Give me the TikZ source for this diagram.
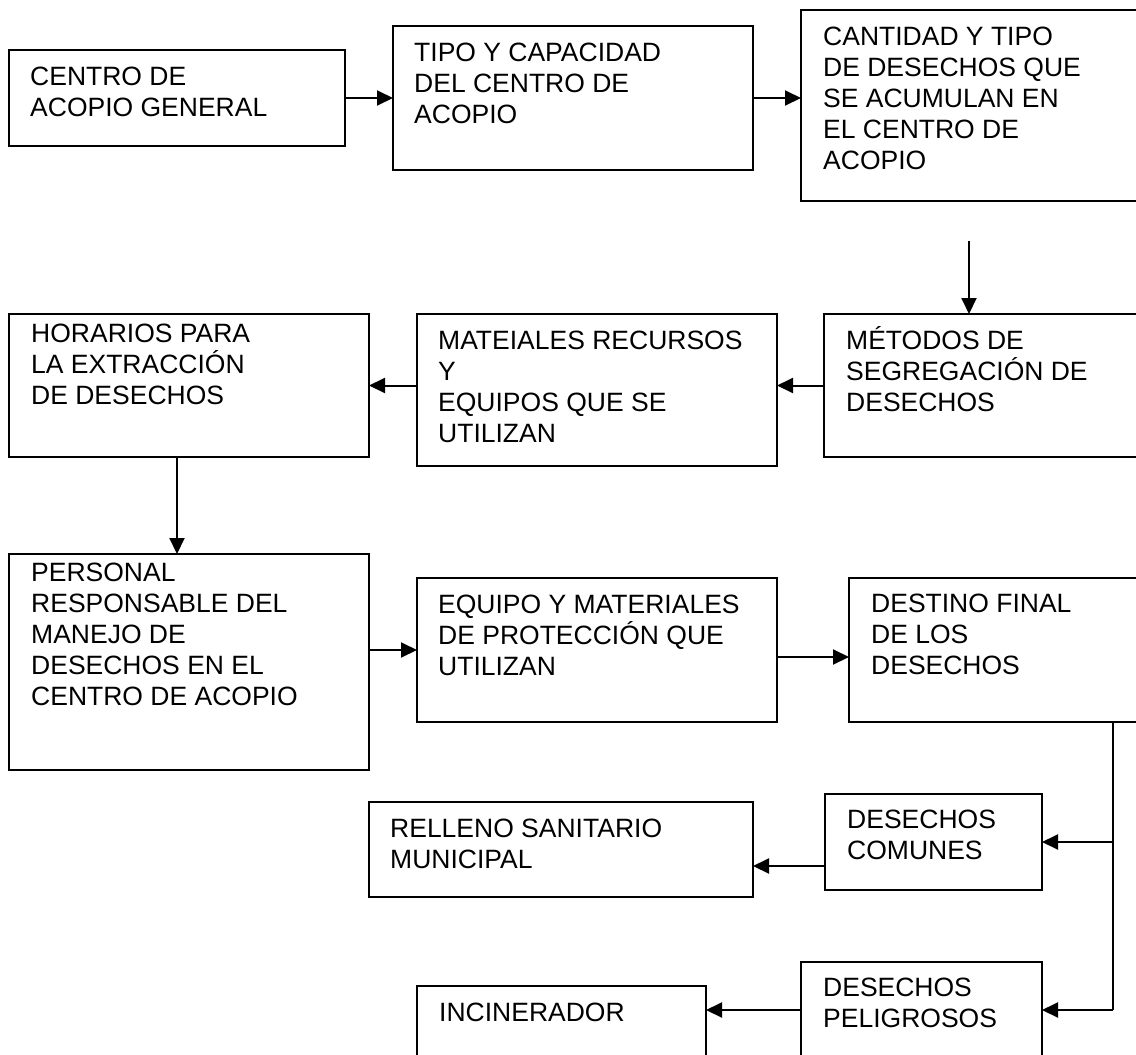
\documentclass[tikz,border=0pt]{standalone}
\usepackage{fontspec}
\setmainfont{Liberation Sans}
\usetikzlibrary{arrows.meta,calc}
\newcommand\flowbox[5]{%
  \node[box, minimum width={#4-#2}, minimum height={#5-#3}] (#1) at ({(#2+#4)/2},{(#3+#5)/2}) {};}
\begin{document}
\begin{tikzpicture}[x=1pt,y=-1pt,
  box/.style={draw, line width=2pt, rectangle, inner sep=0pt, outer sep=0pt},
  txt/.style={anchor=base west, align=left, inner sep=0pt, font=\fontsize{26.5}{31}\selectfont},
  arr/.style={line width=2pt, -{Triangle[length=16pt,width=15pt]}},
  ln/.style={line width=2pt}]
\clip (0,0) rectangle (1136,1055);
\fill[white] (0,0) rectangle (1136,1055);
% boxes
\flowbox{b1}{9}{50}{345}{146}
\flowbox{b2}{393}{26}{753}{170}
\flowbox{b3}{801}{10}{1137}{201}
\flowbox{b4}{824}{314}{1137}{457}
\flowbox{b5}{417}{314}{777}{466}
\flowbox{b6}{9}{314}{369}{457}
\flowbox{b7}{9}{554}{369}{770}
\flowbox{b8}{417}{578}{777}{722}
\flowbox{b9}{849}{578}{1137}{722}
\flowbox{b10}{825}{794}{1042}{890}
\flowbox{b11}{369}{802}{753}{897}
\flowbox{b12}{801}{962}{1042}{1080}
\flowbox{b13}{417}{986}{706}{1080}
% texts (anchored at the baseline of the last line)
\node[txt] (t1) at (30,116) {CENTRO DE\\ACOPIO GENERAL};
\node[txt] (t2) at (414,123) {TIPO Y CAPACIDAD\\DEL CENTRO DE\\ACOPIO};
\node[txt] (t3) at (823,169) {CANTIDAD Y TIPO\\DE DESECHOS QUE\\SE ACUMULAN EN\\EL CENTRO DE\\ACOPIO};
\node[txt] (t4) at (846,411) {MÉTODOS DE\\SEGREGACIÓN DE\\DESECHOS};
\node[txt] (t5) at (438,442) {MATEIALES RECURSOS\\Y\\EQUIPOS QUE SE\\UTILIZAN};
\node[txt] (t6) at (31,404) {HORARIOS PARA\\LA EXTRACCIÓN\\DE DESECHOS};
\node[txt] (t7) at (31,705) {PERSONAL\\RESPONSABLE DEL\\MANEJO DE\\DESECHOS EN EL\\CENTRO DE ACOPIO};
\node[txt] (t8) at (438,675) {EQUIPO Y MATERIALES\\DE PROTECCIÓN QUE\\UTILIZAN};
\node[txt] (t9) at (871,674) {DESTINO FINAL\\DE LOS\\DESECHOS};
\node[txt] (t10) at (847,859) {DESECHOS\\COMUNES};
\node[txt] (t11) at (390,868) {RELLENO SANITARIO\\MUNICIPAL};
\node[txt] (t12) at (823,1027) {DESECHOS\\PELIGROSOS};
\node[txt] (t13) at (439,1021) {INCINERADOR};
% connectors
\coordinate (c34) at (969,241);
\coordinate (v0) at (1113,722);
\coordinate (v1) at (1113,842);
\coordinate (v2) at (1113,1010);
\coordinate (c1011) at (825,866);
\draw[arr] (b1.east) -- (b1.east -| b2.west);
\draw[arr] (b2.east) -- (b2.east -| b3.west);
\draw[arr] (c34) -- (c34 |- b4.north);
\draw[arr] (b4.west) -- (b4.west -| b5.east);
\draw[arr] (b4.west -| b5.west) -- (b4.west -| b6.east);
\draw[arr] ([xshift=-12pt]b6.south) -- ([xshift=-12pt]b6.south |- b7.north);
\draw[arr] (b8.west -| b7.east) -- (b8.west);
\draw[arr] ([yshift=-7pt]b8.east) -- ([yshift=-7pt]b8.east -| b9.west);
\draw[ln] (v0) -- (v2);
\draw[arr] (v1) -- (v1 -| b10.east);
\draw[arr] (v2) -- (v2 -| b12.east);
\draw[arr] (c1011) -- (c1011 -| b11.east);
\draw[arr] (v2 -| b12.west) -- (v2 -| b13.east);
\end{tikzpicture}
\end{document}
